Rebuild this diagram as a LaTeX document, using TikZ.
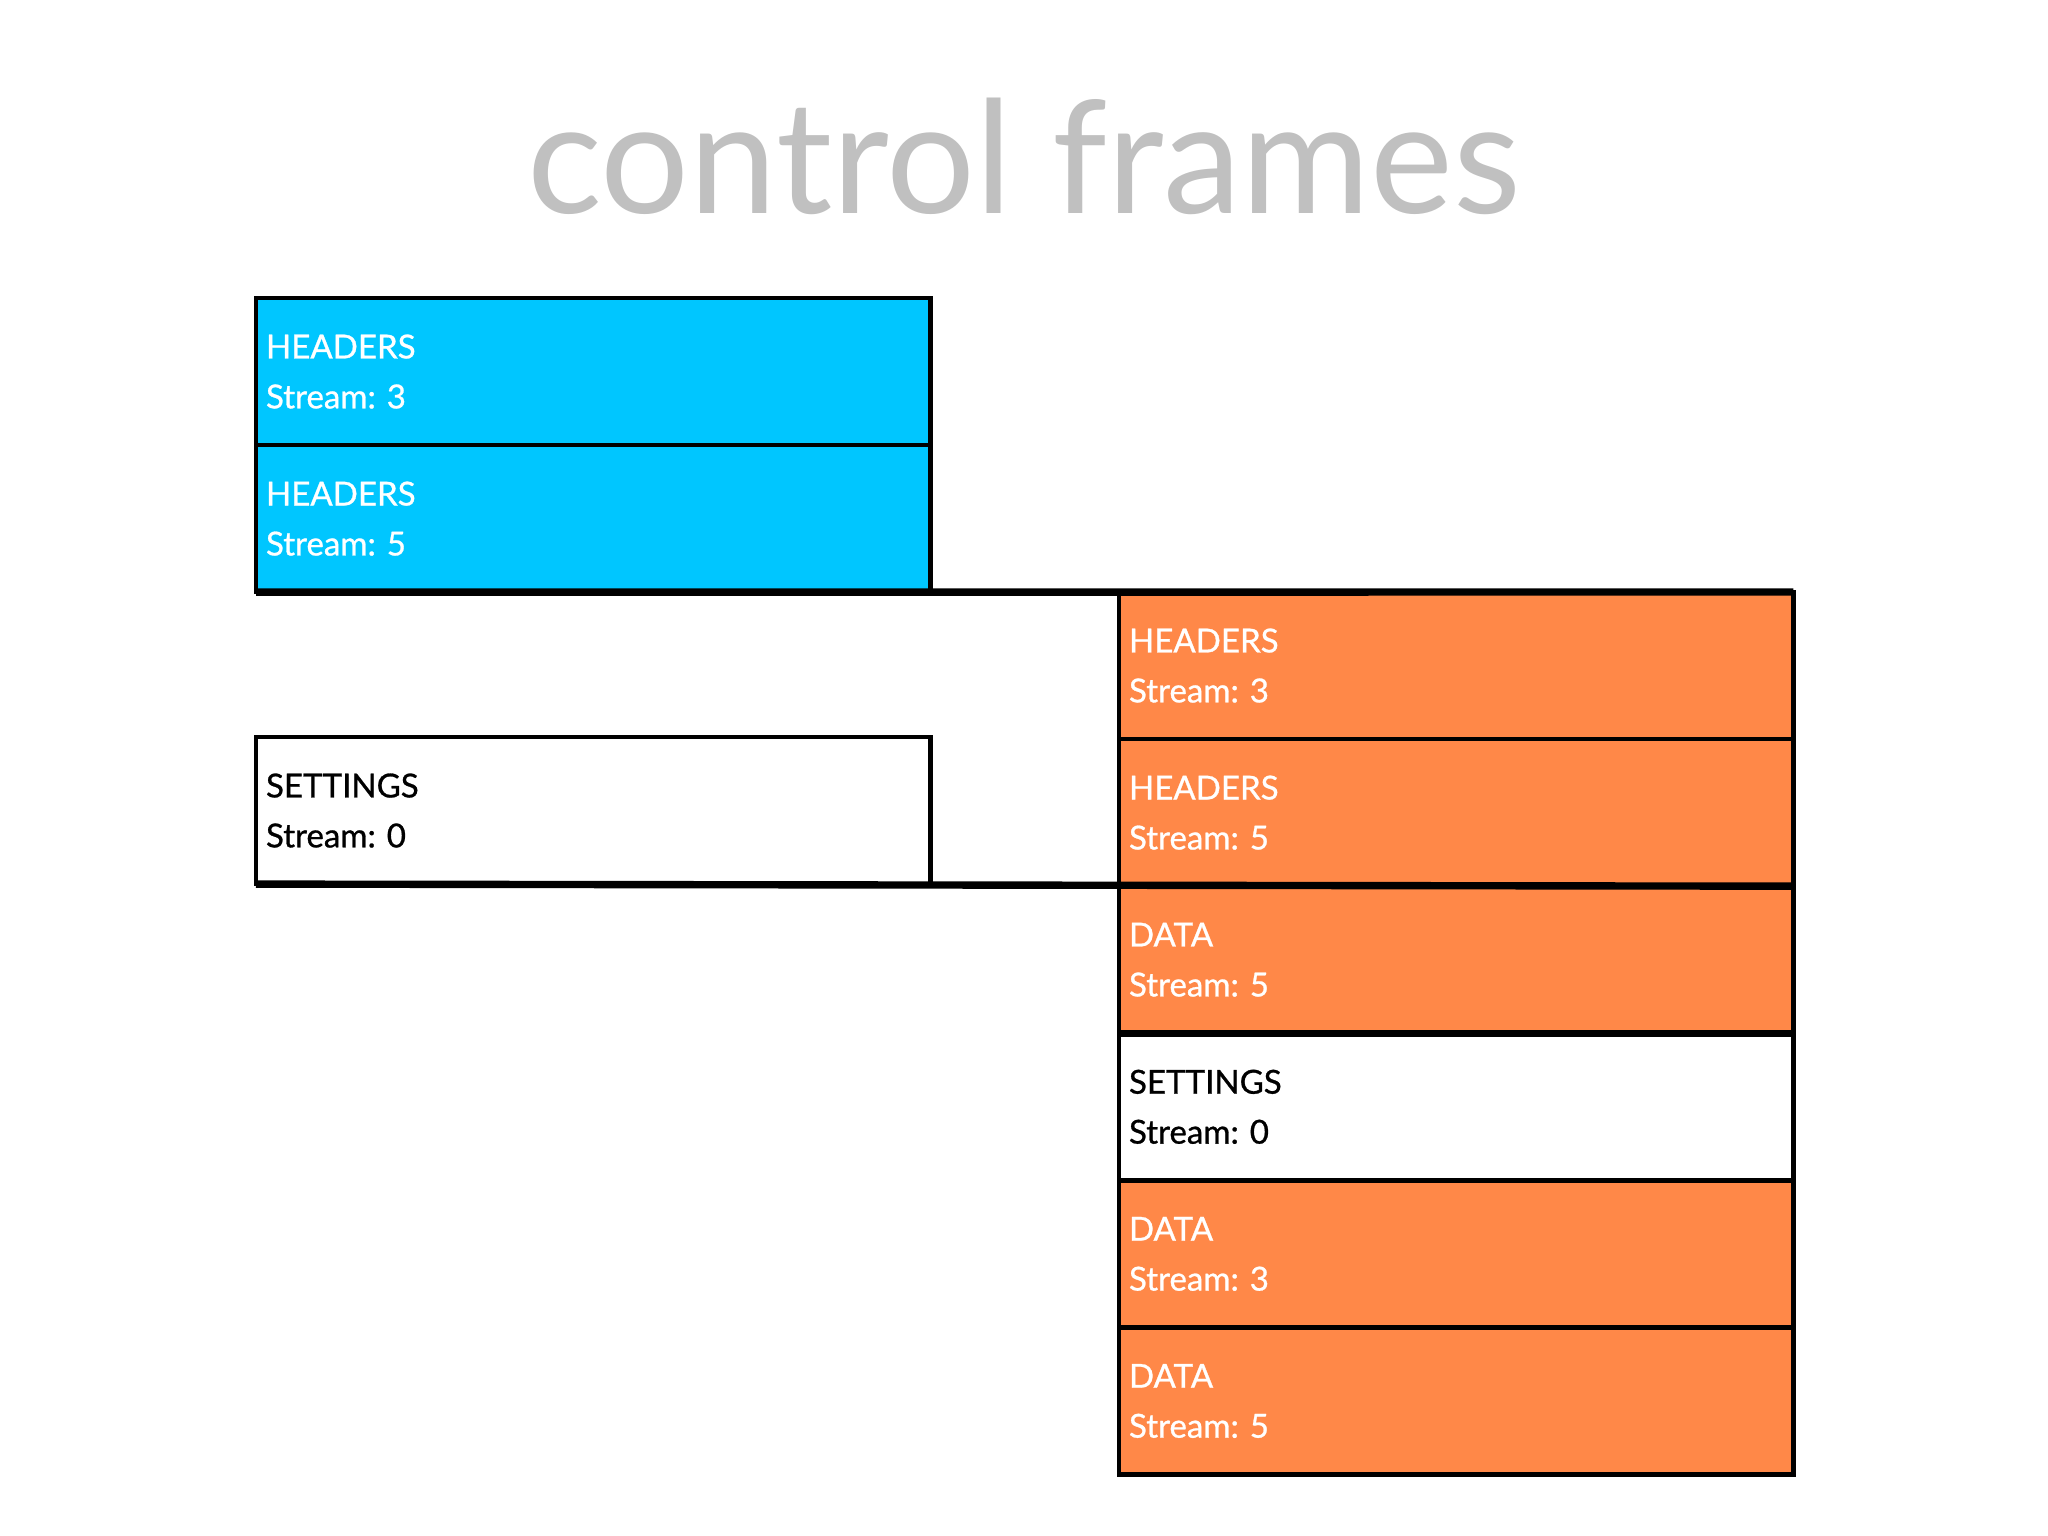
\documentclass[tikz,border=0pt]{standalone}
\usepackage{fontspec}
\setmainfont{Lato}
\newfontfamily\framefont[FakeBold=0.8]{Lato}
\frenchspacing
\usetikzlibrary{positioning}
\definecolor{sentblue}{RGB}{0,198,255}
\definecolor{recvorange}{RGB}{255,136,72}
\definecolor{titlegray}{RGB}{192,192,192}
\tikzset{
  framebox/.style={draw=black, line width=1.3pt, minimum width=6.74cm, minimum height=1.47cm,
    text width=6.54cm, align=left, inner xsep=0.1cm, inner ysep=0pt, outer sep=0pt,
    font=\framefont\fontsize{9.4}{14.2}\selectfont},
  sent/.style={framebox, fill=sentblue, text=white},
  recv/.style={framebox, fill=recvorange, text=white},
  ctrl/.style={framebox, fill=white, text=black},
  thickline/.style={line width=2.1pt}
}
\begin{document}
\begin{tikzpicture}[x=0.01cm,y=-0.01cm]
  \useasboundingbox (0,0) rectangle (2048,1536);
  \node[font=\fontsize{44.6}{44.6}\selectfont, text=titlegray, anchor=base] (title) at (1024,213) {control frames};
  % client side
  \node[sent, anchor=north west] (ch3) at (256,298) {HEADERS\\Stream: 3};
  \node[sent, below=0pt of ch3] (ch5) {HEADERS\\Stream: 5};
  \node[ctrl, anchor=north west] (cset) at (256,737) {SETTINGS\\Stream: 0};
  % server side
  \node[recv, anchor=north west] (sh3) at (1119,592) {HEADERS\\Stream: 3};
  \node[recv, below=0pt of sh3] (sh5) {HEADERS\\Stream: 5};
  \node[recv, below=0pt of sh5] (sd5) {DATA\\Stream: 5};
  \node[ctrl, below=0pt of sd5] (sset) {SETTINGS\\Stream: 0};
  \node[recv, below=0pt of sset] (sd3) {DATA\\Stream: 3};
  \node[recv, below=0pt of sd3] (sd5b) {DATA\\Stream: 5};
  % boundaries
  \draw[thickline] (ch5.south west) -- (sh3.north east);
  \draw[thickline] (cset.south west) -- (sh5.south east);
  \draw[thickline] (sd5.south west) -- (sd5.south east);
\end{tikzpicture}
\end{document}
